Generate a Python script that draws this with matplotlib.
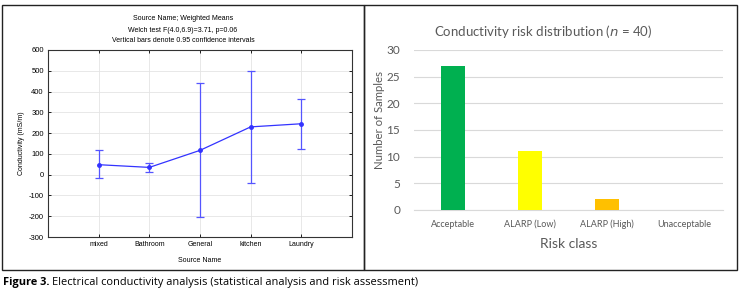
import matplotlib
matplotlib.use("Agg")
import matplotlib.pyplot as plt
from matplotlib.patches import Rectangle

plt.rcParams["axes.unicode_minus"] = False

# Left panel data (weighted means and 95% CI)
sources = ["mixed", "Bathroom", "General", "kitchen", "Laundry"]
means = [48, 35, 117, 230, 245]
ci_low = [-18, 15, -205, -40, 125]
ci_high = [118, 55, 440, 500, 365]

# Right panel data
risk_classes = ["Acceptable", "ALARP (Low)", "ALARP (High)", "Unacceptable"]
counts = [27, 11, 2, 0]
bar_colors = ["#00B050", "#FFFF00", "#FFC000", "#FF0000"]

W, H = 742, 291
fig = plt.figure(figsize=(W / 100, H / 100), dpi=100)

def px(x0, y0, x1, y1):
    return [x0 / W, 1 - y1 / H, (x1 - x0) / W, (y1 - y0) / H]

# frames
fig.patches.append(Rectangle((2 / W, 1 - 270 / H), (364 - 2) / W, (270 - 5) / H,
                             transform=fig.transFigure, fill=False, lw=1.0, ec="#222222"))
fig.patches.append(Rectangle((364 / W, 1 - 270 / H), (737 - 364) / W, (270 - 5) / H,
                             transform=fig.transFigure, fill=False, lw=1.0, ec="#222222"))

# ---- Left panel ----
lf = "Liberation Sans"
ax1 = fig.add_axes(px(48, 50, 352, 237))
xs = list(range(1, len(sources) + 1))
yerr = [[m - l for m, l in zip(means, ci_low)], [h - m for m, h in zip(means, ci_high)]]
ax1.errorbar(xs, means, yerr=yerr, color="#3333FF", lw=0.9, marker="o", ms=2.5,
             capsize=3, capthick=0.9, ecolor="#5555FF", elinewidth=0.9)
ax1.set_xlim(0, 6)
ax1.set_ylim(-300, 600)
ax1.set_yticks(range(-300, 601, 100))
ax1.set_xticks(xs)
ax1.set_xticklabels(sources, fontsize=5, family=lf)
for t in ax1.get_yticklabels():
    t.set_fontsize(5.5)
    t.set_family(lf)
ax1.grid(True, color="#e4e4e4", lw=0.6)
ax1.set_axisbelow(True)
ax1.tick_params(top=True, right=True, direction="in", length=2, width=0.6, pad=3)
for s in ax1.spines.values():
    s.set_linewidth(0.8)
    s.set_color("#333333")
ax1.set_ylabel("Conductivity (mS/m)", fontsize=5, family=lf, labelpad=3)
ax1.set_xlabel("Source Name", fontsize=5, family=lf, labelpad=6)
fig.text(183 / W, 1 - 19 / H, "Source Name; Weighted Means", ha="center", va="center",
         fontsize=5, family=lf)
fig.text(183 / W, 1 - 30 / H, "Welch test F(4.0,6.9)=3.71, p=0.06", ha="center", va="center",
         fontsize=5, family=lf)
fig.text(183 / W, 1 - 41 / H, "Vertical bars denote 0.95 confidence intervals", ha="center",
         va="center", fontsize=5, family=lf)

# ---- Right panel ----
rf = "Lato"
gray = "#595959"
ax2 = fig.add_axes(px(414, 50, 723, 210))
ax2.bar(range(len(risk_classes)), counts, width=0.31, color=bar_colors, zorder=3)
ax2.set_xlim(-0.5, len(risk_classes) - 0.5)
ax2.set_ylim(0, 30)
ax2.set_yticks(range(0, 31, 5))
ax2.set_xticks(range(len(risk_classes)))
ax2.set_xticklabels(risk_classes, fontsize=6.5, family=rf, color=gray)
for t in ax2.get_yticklabels():
    t.set_fontsize(8.5)
    t.set_family(rf)
    t.set_color(gray)
ax2.grid(True, axis="y", color="#d9d9d9", lw=0.8)
ax2.tick_params(axis="x", length=0, pad=7)
ax2.tick_params(axis="y", length=0, pad=10)
for k in ["top", "right", "left"]:
    ax2.spines[k].set_visible(False)
ax2.spines["bottom"].set_color("#d9d9d9")
ax2.set_ylabel("Number of Samples", fontsize=8.2, family=rf, color=gray)
ax2.yaxis.set_label_coords((385 - 414) / 309, (210 - 120) / 160)
ax2.set_xlabel("Risk class", fontsize=10, family=rf, color=gray, labelpad=6)
fig.text(543 / W, 1 - 32 / H, "Conductivity risk distribution ($\\it{n}$ = 40)",
         ha="center", va="center", fontsize=9.5, family=rf, color=gray)

# caption
cf = "Open Sans"
t1 = fig.text(3 / W, 1 - 283 / H, "Figure 3.", ha="left", va="center", fontsize=7.9,
              family=cf, weight="bold")
fig.canvas.draw()
bb = t1.get_window_extent()
fig.text((bb.x1 + 3) / W, 1 - 283 / H,
         "Electrical conductivity analysis (statistical analysis and risk assessment)",
         ha="left", va="center", fontsize=7.9, family=cf)

fig.savefig("out.png", dpi=100)
